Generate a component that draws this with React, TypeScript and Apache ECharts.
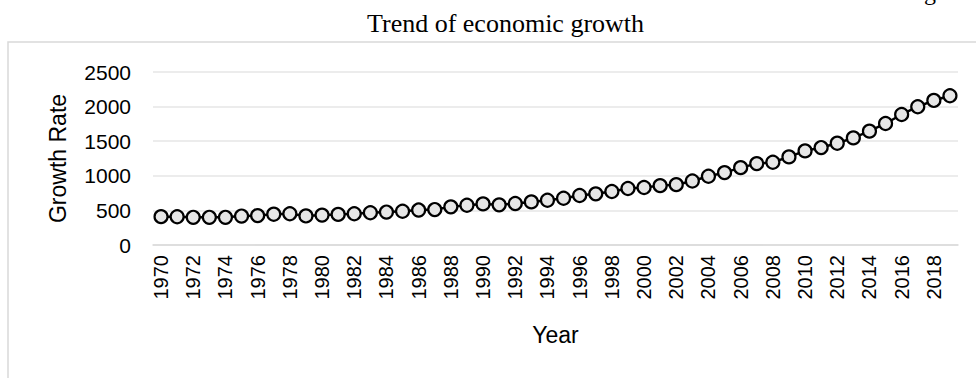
import React, { useEffect, useRef } from "react";
import * as echarts from "echarts";

const years: string[] = [
  "1970","1971","1972","1973","1974","1975","1976","1977","1978","1979",
  "1980","1981","1982","1983","1984","1985","1986","1987","1988","1989",
  "1990","1991","1992","1993","1994","1995","1996","1997","1998","1999",
  "2000","2001","2002","2003","2004","2005","2006","2007","2008","2009",
  "2010","2011","2012","2013","2014","2015","2016","2017","2018","2019",
];

const growth: number[] = [
  410, 408, 400, 400, 400, 418, 425, 445, 452, 420,
  432, 442, 452, 466, 476, 488, 505, 512, 551, 575,
  594, 580, 599, 623, 647, 676, 715, 739, 773, 816,
  831, 858, 872, 925, 993, 1046, 1118, 1176, 1196, 1273,
  1360, 1408, 1471, 1548, 1645, 1756, 1886, 1998, 2089, 2157,
];

const titleText = "Trend of economic growth";
const yName = "Growth Rate";
const xName = "Year";

export default function App() {
  const ref = useRef<HTMLDivElement>(null);
  useEffect(() => {
    if (!ref.current) return;
    const chart = echarts.init(ref.current, undefined, { renderer: "svg" });
    chart.setOption({
      animation: false,
      backgroundColor: "#ffffff",
      title: {
        text: titleText,
        left: 362,
        top: 5,
        textStyle: {
          fontFamily: "'Liberation Serif', 'Times New Roman', serif",
          fontSize: 26,
          fontWeight: "normal",
          color: "#000000",
        },
      },
      graphic: [
        {
          type: "rect",
          z: -10,
          silent: true,
          shape: { x: 8, y: 42, width: 1000, height: 400 },
          style: { fill: "none", stroke: "#d9d9d9", lineWidth: 1.5 },
        },
        {
          type: "text",
          x: 924,
          y: -8,
          silent: true,
          style: {
            text: "g",
            fontFamily: "'Liberation Serif', serif",
            fontSize: 24,
            fill: "#000000",
            verticalAlign: "middle",
          },
        },
      ],
      grid: { left: 153, right: 18, top: 72, bottom: 133, containLabel: false },
      xAxis: {
        type: "category",
        data: years,
        boundaryGap: true,
        name: xName,
        nameLocation: "middle",
        nameGap: 78,
        nameTextStyle: {
          fontFamily: "'Liberation Sans', Arial, sans-serif",
          fontSize: 23,
          color: "#000000",
        },
        axisLine: { show: true, lineStyle: { color: "#d9d9d9", width: 1.5 } },
        axisTick: { show: false },
        axisLabel: {
          interval: 1,
          rotate: 90,
          margin: 10,
          fontFamily: "'Liberation Sans', Arial, sans-serif",
          fontSize: 20,
          color: "#000000",
        },
        splitLine: { show: false },
      },
      yAxis: {
        type: "value",
        min: 0,
        max: 2500,
        interval: 500,
        name: yName,
        nameLocation: "middle",
        nameGap: 84,
        nameTextStyle: {
          fontFamily: "'Liberation Sans', Arial, sans-serif",
          fontSize: 23,
          color: "#000000",
        },
        axisLine: { show: false },
        axisTick: { show: false },
        axisLabel: {
          margin: 22,
          formatter: (v: number) => String(v),
          fontFamily: "'Liberation Sans', Arial, sans-serif",
          fontSize: 21,
          color: "#000000",
        },
        splitLine: { show: true, lineStyle: { color: "#e6e6e6", width: 1.5 } },
      },
      series: [
        {
          type: "line",
          data: growth,
          symbol: "circle",
          symbolSize: 13,
          showSymbol: true,
          showAllSymbol: true,
          lineStyle: { color: "#000000", width: 2.5 },
          itemStyle: { color: "#e6e6e6", borderColor: "#000000", borderWidth: 2.2 },
        },
      ],
    });
    return () => chart.dispose();
  }, []);
  return (
    <div
      ref={ref}
      style={{ position: "fixed", left: 0, top: 0, width: 976, height: 378 }}
    />
  );
}
